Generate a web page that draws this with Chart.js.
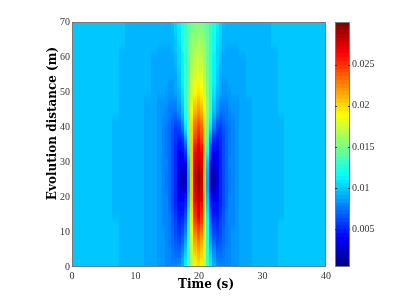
<!DOCTYPE html>
<html>
<head>
<meta charset="utf-8">
<script src="https://cdn.jsdelivr.net/npm/chart.js@4"></script>
<style>
  html, body { margin: 0; padding: 0; background: #fff; overflow: hidden; }
  #wrap { position: relative; width: 399px; height: 299px; }
  canvas { position: absolute; top: 0; }
  #mapChart { left: 0; }
  #barChart { left: 331px; }
</style>
</head>
<body>
<svg width="0" height="0" style="position:absolute">
  <filter id="soften" x="0" y="0" width="100%" height="100%">
    <feGaussianBlur stdDeviation="0.7 3.5"></feGaussianBlur>
  </filter>
</svg>
<div id="wrap">
  <canvas id="mapChart" width="335" height="299"></canvas>
  <canvas id="barChart" width="64" height="299"></canvas>
</div>
<script>
// Axis ticks
const TIME_TICKS = [0, 10, 20, 30, 40];
const DISTANCE_TICKS = [0, 10, 20, 30, 40, 50, 60, 70];
const BAR_TICKS = [0.005, 0.01, 0.015, 0.02, 0.025];
const BAR_LABELS = ['0.005', '0.01', '0.015', '0.02', '0.025'];
const TIME_TITLE = 'Time (s)';
const DISTANCE_TITLE = 'Evolution distance (m)';

// Colour limits
const VALUE_MIN = 0.0004;
const VALUE_MAX = 0.0302;
const LEVELS = 64;

// The map is mirrored around this time
const CENTRE_TIME = 20;

// Seconds from the centre, one per column of the table below
const timeOffsets = [0, 0.5, 1, 1.5, 2, 2.5, 3, 3.5, 4, 4.5, 5, 5.5, 6, 7, 8, 9, 10, 11, 12, 13, 14, 15, 17, 20];

// Metres, one per row of the table below
const distances = [0, 2.5, 5, 7.5, 10, 12.5, 15, 17.5, 20, 22.5, 25, 27.5, 30, 32.5, 35,
    37.5, 40, 42.5, 45, 47.5, 50, 52.5, 55, 57.5, 60, 62.5, 65, 67.5, 70];

// Amplitude in units of 1e-4
const amplitude = [
    [198, 188, 168, 138, 112, 96, 86, 81, 80, 81, 83, 85, 87, 90, 92, 93, 95, 95, 96, 98, 98, 98, 99, 100],
    [205, 195, 168, 134, 108, 88, 78, 76, 77, 80, 82, 85, 87, 90, 92, 93, 95, 95, 96, 98, 98, 98, 99, 100],
    [215, 205, 172, 130, 100, 80, 72, 72, 75, 79, 82, 85, 87, 89, 92, 93, 95, 95, 96, 98, 98, 98, 99, 100],
    [228, 218, 180, 128, 90, 70, 64, 67, 72, 77, 81, 84, 86, 89, 92, 93, 94, 95, 96, 98, 98, 98, 99, 100],
    [243, 232, 190, 125, 80, 62, 58, 63, 70, 76, 81, 84, 86, 89, 91, 93, 94, 95, 96, 98, 98, 98, 99, 100],
    [257, 244, 195, 120, 70, 56, 54, 60, 67, 75, 80, 83, 85, 88, 91, 93, 94, 95, 96, 98, 98, 98, 99, 100],
    [270, 255, 198, 115, 62, 50, 50, 58, 65, 74, 80, 83, 85, 88, 91, 93, 94, 95, 96, 97, 98, 98, 99, 100],
    [282, 264, 202, 106, 52, 42, 44, 55, 64, 73, 79, 83, 85, 88, 91, 93, 94, 95, 96, 97, 98, 98, 99, 100],
    [292, 272, 205, 98, 42, 33, 39, 53, 63, 73, 79, 83, 85, 88, 91, 93, 94, 95, 96, 97, 98, 98, 99, 100],
    [299, 278, 205, 92, 32, 22, 33, 52, 62, 72, 78, 83, 85, 88, 91, 93, 94, 95, 96, 97, 98, 98, 99, 100],
    [302, 280, 205, 88, 22, 16, 30, 52, 62, 72, 78, 83, 85, 88, 91, 93, 94, 95, 96, 97, 98, 98, 99, 100],
    [299, 277, 205, 94, 28, 20, 33, 52, 62, 72, 78, 83, 85, 88, 91, 93, 94, 95, 96, 97, 98, 98, 99, 100],
    [292, 272, 205, 100, 38, 30, 37, 52, 63, 73, 79, 83, 85, 88, 91, 93, 94, 95, 96, 97, 98, 98, 99, 100],
    [283, 265, 205, 114, 52, 38, 41, 53, 62, 73, 78, 82, 85, 88, 91, 93, 94, 95, 96, 97, 98, 98, 99, 100],
    [272, 256, 205, 128, 68, 47, 45, 54, 62, 72, 78, 82, 85, 88, 91, 93, 94, 95, 96, 97, 98, 98, 99, 100],
    [259, 245, 203, 138, 88, 58, 52, 56, 63, 72, 78, 81, 84, 88, 91, 93, 94, 95, 96, 97, 98, 98, 99, 100],
    [247, 235, 200, 148, 108, 75, 60, 58, 65, 72, 77, 81, 84, 88, 91, 93, 94, 95, 96, 97, 98, 98, 99, 100],
    [234, 223, 195, 152, 118, 88, 72, 67, 71, 75, 79, 83, 85, 89, 91, 93, 94, 95, 96, 97, 98, 98, 99, 100],
    [222, 212, 190, 155, 128, 100, 85, 78, 77, 78, 81, 84, 86, 89, 91, 93, 94, 95, 96, 98, 98, 98, 99, 100],
    [210, 202, 182, 153, 130, 106, 91, 83, 81, 82, 84, 86, 87, 90, 92, 93, 94, 95, 96, 98, 98, 98, 99, 100],
    [199, 192, 175, 150, 130, 110, 96, 88, 85, 86, 87, 88, 89, 91, 93, 94, 95, 95, 96, 98, 98, 98, 99, 100],
    [191, 186, 172, 149, 130, 112, 98, 90, 86, 87, 88, 89, 90, 92, 93, 94, 95, 95, 96, 98, 98, 98, 99, 100],
    [184, 180, 168, 148, 130, 113, 100, 92, 88, 88, 89, 90, 91, 92, 93, 94, 95, 96, 96, 98, 98, 98, 99, 100],
    [179, 175, 165, 148, 130, 114, 102, 94, 90, 90, 90, 90, 91, 92, 93, 94, 95, 96, 96, 98, 98, 98, 99, 100],
    [174, 171, 162, 147, 130, 115, 104, 96, 92, 91, 91, 91, 92, 92, 93, 94, 95, 96, 96, 98, 98, 98, 99, 100],
    [169, 166, 159, 146, 131, 117, 106, 98, 94, 92, 92, 92, 92, 93, 93, 94, 95, 96, 97, 98, 98, 98, 100, 100],
    [163, 161, 155, 145, 132, 119, 108, 100, 95, 93, 93, 93, 93, 93, 94, 95, 96, 96, 98, 98, 98, 99, 100, 100],
    [157, 156, 151, 143, 132, 121, 110, 102, 97, 95, 94, 94, 94, 94, 95, 95, 96, 96, 98, 98, 98, 99, 100, 100],
    [152, 151, 147, 140, 131, 122, 112, 104, 98, 96, 95, 94, 94, 94, 95, 96, 96, 97, 98, 98, 98, 99, 100, 100]
];

// Shared look
const FRAME_COLOR = '#7a7a7a';
const TICK_FONT = { family: '"Liberation Serif"', size: 10 };
const TITLE_FONT = 'bold 12px "DejaVu Serif"';

// jet colour map, same 64 steps as the colour bar
function jetColor(level) {
    const f = (level + 0.5) / LEVELS;
    const channel = c => Math.round(255 * Math.max(0, Math.min(1, 1.5 - Math.abs(4 * f - c))));
    return `rgb(${channel(3)},${channel(2)},${channel(1)})`;
}

function levelForValue(value) {
    const f = (value - VALUE_MIN) / (VALUE_MAX - VALUE_MIN);
    return Math.max(0, Math.min(LEVELS - 1, Math.floor(f * LEVELS)));
}

// Solid canvases used as point styles, so every cell is a normal chart point
const cellCache = {};
function cellStyle(color, width, height) {
    const key = `${color}|${width}|${height}`;
    if (!cellCache[key]) {
        const cell = document.createElement('canvas');
        cell.width = width;
        cell.height = height;
        const cellCtx = cell.getContext('2d');
        cellCtx.fillStyle = color;
        cellCtx.fillRect(0, 0, width, height);
        cellCache[key] = cell;
    }
    return cellCache[key];
}

// Scriptable point style: cell size comes from the scales
function pointStyleForCell(ctx) {
    const raw = ctx.raw;
    const scales = ctx.chart.scales;
    const width = Math.abs(scales.x.getPixelForValue(raw.x1) - scales.x.getPixelForValue(raw.x0));
    const height = Math.abs(scales.y.getPixelForValue(raw.y1) - scales.y.getPixelForValue(raw.y0));
    return cellStyle(raw.color, Math.ceil(width) + 1, Math.ceil(height) + 1);
}

// Full list of column times, left to right
function columnTimes() {
    const left = timeOffsets.slice(1).reverse().map(d => CENTRE_TIME - d);
    const right = timeOffsets.map(d => CENTRE_TIME + d);
    return left.concat(right);
}

function edgesOf(centres) {
    return centres.map((c, i) => ({
        low: i === 0 ? c : (centres[i - 1] + c) / 2,
        high: i === centres.length - 1 ? c : (c + centres[i + 1]) / 2
    }));
}

function buildMapCells() {
    const times = columnTimes();
    const timeEdges = edgesOf(times);
    const rowEdges = edgesOf(distances);
    const cells = [];
    distances.forEach((z, row) => {
        times.forEach((t, col) => {
            const offsetIndex = timeOffsets.indexOf(Math.abs(t - CENTRE_TIME));
            const x0 = timeEdges[col].low;
            const x1 = timeEdges[col].high;
            const y0 = rowEdges[row].low;
            const y1 = rowEdges[row].high;
            cells.push({
                x: (x0 + x1) / 2,
                y: (y0 + y1) / 2,
                x0, x1, y0, y1,
                color: jetColor(levelForValue(amplitude[row][offsetIndex] * 1e-4))
            });
        });
    });
    return cells;
}

function buildBarCells() {
    const step = (VALUE_MAX - VALUE_MIN) / LEVELS;
    const cells = [];
    for (let level = 0; level < LEVELS; level++) {
        const y0 = VALUE_MIN + level * step;
        cells.push({ x: 0.5, y: y0 + step / 2, x0: 0, x1: 1, y0, y1: y0 + step, color: jetColor(level) });
    }
    return cells;
}

// Softens the cell edges of the map, the reference is shaded smoothly
const softenPlugin = {
    id: 'soften',
    afterDatasetsDraw(chart) {
        const area = chart.chartArea;
        const ctx = chart.ctx;
        const copy = document.createElement('canvas');
        copy.width = chart.width;
        copy.height = chart.height;
        copy.getContext('2d').drawImage(chart.canvas, 0, 0);
        ctx.save();
        ctx.beginPath();
        ctx.rect(area.left, area.top, area.right - area.left, area.bottom - area.top);
        ctx.clip();
        ctx.filter = 'url(#soften)';
        ctx.drawImage(copy, 0, 0);
        ctx.restore();
    }
};

// Box around the plot, Chart.js only draws the axis sides
const framePlugin = {
    id: 'frame',
    afterDraw(chart) {
        const area = chart.chartArea;
        const ctx = chart.ctx;
        ctx.save();
        ctx.strokeStyle = FRAME_COLOR;
        ctx.lineWidth = 1;
        ctx.strokeRect(area.left + 0.5, area.top + 0.5, area.right - area.left - 1, area.bottom - area.top - 1);
        if (chart.canvas.id === 'barChart') {
            ctx.strokeStyle = '#333';
            BAR_TICKS.forEach(v => {
                const y = Math.round(chart.scales.y.getPixelForValue(v)) + 0.5;
                ctx.beginPath();
                ctx.moveTo(area.left, y);
                ctx.lineTo(area.left + 2, y);
                ctx.moveTo(area.right - 2, y);
                ctx.lineTo(area.right, y);
                ctx.stroke();
            });
        }
        ctx.restore();
    }
};

// Axis titles sit off-centre in the reference, so they are placed by hand
const titlePlugin = {
    id: 'axisTitles',
    afterDraw(chart) {
        const ctx = chart.ctx;
        ctx.save();
        ctx.fillStyle = '#000';
        ctx.font = TITLE_FONT;
        ctx.textAlign = 'center';
        ctx.textBaseline = 'alphabetic';
        ctx.fillText(TIME_TITLE, 206, 288);
        ctx.translate(56, 123.5);
        ctx.rotate(-Math.PI / 2);
        ctx.fillText(DISTANCE_TITLE, 0, 0);
        ctx.restore();
    }
};

function cellDataset(cells) {
    return {
        data: cells,
        pointStyle: pointStyleForCell,
        pointRadius: 1,
        borderWidth: 0
    };
}

// Main map
new Chart(document.getElementById('mapChart'), {
    type: 'scatter',
    data: { datasets: [cellDataset(buildMapCells())] },
    options: {
        responsive: false,
        animation: false,
        events: [],
        layout: { padding: { left: 0, top: 22, right: 9, bottom: 0 } },
        plugins: { legend: { display: false }, tooltip: { enabled: false } },
        scales: {
            x: {
                type: 'linear',
                min: 0,
                max: 40,
                afterBuildTicks: scale => { scale.ticks = TIME_TICKS.map(value => ({ value })); },
                afterFit: scale => { scale.height = 32; },
                grid: { display: false, drawTicks: false },
                border: { display: false },
                ticks: { color: '#333', font: TICK_FONT, padding: 3, maxRotation: 0 }
            },
            y: {
                type: 'linear',
                min: 0,
                max: 70,
                afterBuildTicks: scale => { scale.ticks = DISTANCE_TICKS.map(value => ({ value })); },
                afterFit: scale => { scale.width = 72; },
                grid: { display: false, drawTicks: false },
                border: { display: false },
                ticks: { color: '#333', font: TICK_FONT, padding: 2 }
            }
        }
    },
    plugins: [softenPlugin, framePlugin, titlePlugin]
});

// Colour bar
new Chart(document.getElementById('barChart'), {
    type: 'scatter',
    data: { datasets: [cellDataset(buildBarCells())] },
    options: {
        responsive: false,
        animation: false,
        events: [],
        layout: { padding: { left: 0, top: 22, right: 0, bottom: 32 } },
        plugins: { legend: { display: false }, tooltip: { enabled: false } },
        scales: {
            x: { type: 'linear', min: 0, max: 1, display: false },
            y: {
                type: 'linear',
                position: 'right',
                min: VALUE_MIN,
                max: VALUE_MAX,
                afterBuildTicks: scale => { scale.ticks = BAR_TICKS.map(value => ({ value })); },
                afterFit: scale => { scale.width = 45; },
                grid: { display: false, drawTicks: false },
                border: { display: false },
                ticks: {
                    color: '#333',
                    font: TICK_FONT,
                    padding: 2,
                    callback: value => BAR_LABELS[BAR_TICKS.indexOf(value)]
                }
            }
        }
    },
    plugins: [framePlugin]
});
</script>
</body>
</html>
